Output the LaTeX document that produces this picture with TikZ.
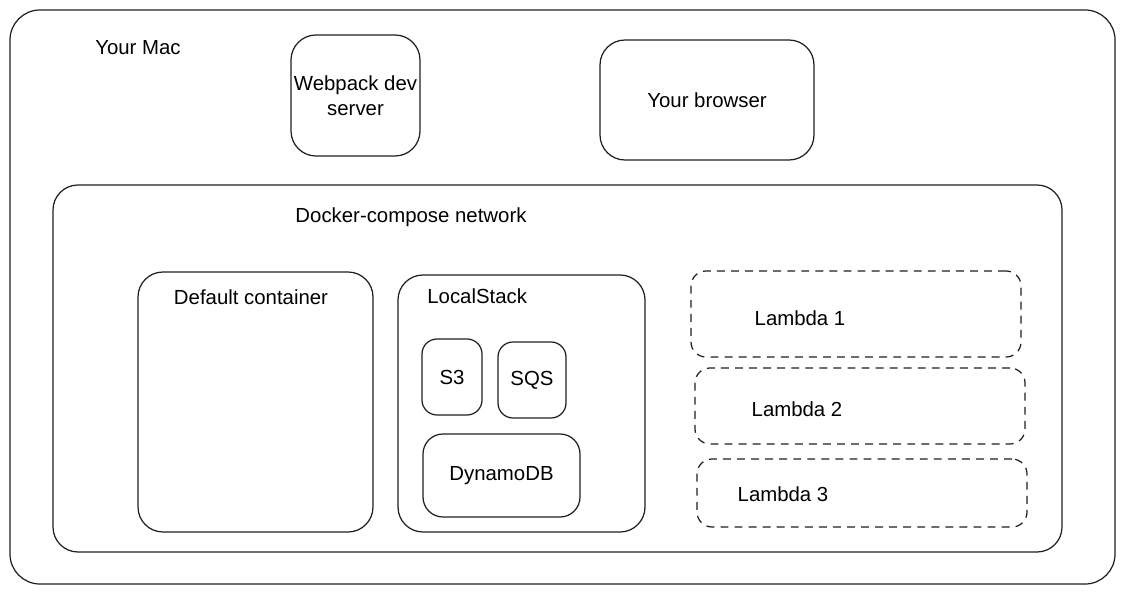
\documentclass[tikz,border=0pt]{standalone}
\usepackage{fontspec}
\setmainfont{Liberation Sans}
\usetikzlibrary{fit}

\begin{document}
\begin{tikzpicture}[x=0.02cm, y=-0.02cm,
  box/.style={draw=black!88, line width=0.7pt, rounded corners=0.5cm, inner sep=0pt},
  lambdabox/.style={box, dashed, dash pattern=on 4.5pt off 3.5pt, rounded corners=0.3cm},
  lbl/.style={font=\fontsize{11.6}{14.5}\selectfont, inner sep=0pt, align=center}]
% Rahmen
\path[use as bounding box] (0,0) rectangle (1124,594);

% Der Mac
\node[box, rounded corners=0.6cm, fit={(10,10) (1115,584)}] (mac) {};
\node[lbl] (macLabel) at (138,48) {Your Mac};

% Oben: Dev-Server und Browser
\node[box, fit={(291,35) (420,156)}] (webpack) {};
\node[lbl] at (webpack.center) {Webpack dev\\server};
\node[box, fit={(600,40) (814,160)}] (browser) {};
\node[lbl] at (browser.center) {Your browser};

% Docker-Netz
\node[box, fit={(53,185) (1062,552)}] (network) {};
\node[lbl] (networkLabel) at (411,217) {Docker-compose network};

% Default container
\node[box, fit={(138,272) (373,532)}] (default) {};
\node[lbl] (defaultLabel) at (251,297) {Default container};

% LocalStack mit Diensten
\node[box, fit={(398,275) (645,532)}] (localstack) {};
\node[lbl, anchor=west] (localstackLabel) at (427,296) {LocalStack};
\node[box, rounded corners=0.3cm, fit={(422,339) (482,415)}] (s3) {};
\node[lbl] at (s3.center) {S3};
\node[box, rounded corners=0.3cm, fit={(498,342) (566,418)}] (sqs) {};
\node[lbl] at (sqs.center) {SQS};
\node[box, rounded corners=0.4cm, fit={(423,434) (580,517)}] (dynamo) {};
\node[lbl] at (dynamo.center) {DynamoDB};

% Lambdas
\node[lambdabox, fit={(691,271) (1021,357)}] (lambda1) {};
\node[lbl] at (800,318) {Lambda 1};
\node[lambdabox, fit={(695,368) (1025,444)}] (lambda2) {};
\node[lbl] at (797,409) {Lambda 2};
\node[lambdabox, fit={(697,459) (1027,527)}] (lambda3) {};
\node[lbl] at (783,494) {Lambda 3};
\end{tikzpicture}
\end{document}
